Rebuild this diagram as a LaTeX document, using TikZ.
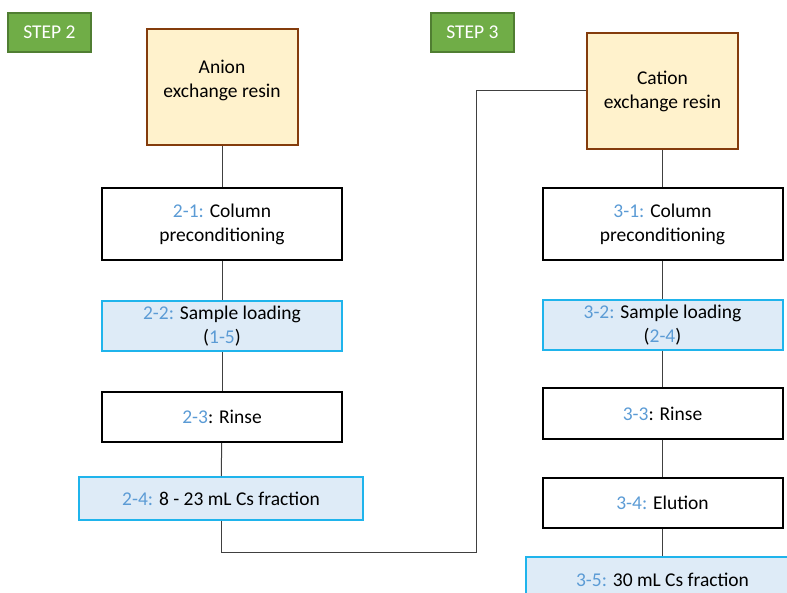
\documentclass[tikz,border=0pt]{standalone}
\usepackage{fontspec}
\setmainfont{Carlito}
\usepackage{xcolor}
\usetikzlibrary{positioning}
\definecolor{stepgreen}{HTML}{70AD47}
\definecolor{stepgreenline}{HTML}{507E32}
\definecolor{resinfill}{HTML}{FFF2CC}
\definecolor{resinline}{HTML}{843C0C}
\definecolor{numblue}{HTML}{5B9BD5}
\definecolor{fracfill}{HTML}{DEEBF7}
\definecolor{fracline}{HTML}{1FB4EC}
\newcommand\Num[1]{\textcolor{numblue}{#1}}
\tikzset{
  steplabel/.style={draw=stepgreenline,fill=stepgreen,line width=1.2pt,text=white,
    minimum width=83,minimum height=39,inner sep=0pt},
  resinbox/.style={draw=resinline,fill=resinfill,line width=2pt,
    minimum width=151,minimum height=116,inner sep=0pt,align=center},
  workbox/.style={draw=black,line width=2pt,minimum width=240,inner sep=0pt,align=center},
  fracbox/.style={workbox,draw=fracline,fill=fracfill},
  link/.style={draw=black!75,line width=1pt}
}

\begin{document}
\begin{tikzpicture}[x=1pt, y=-1pt, font=\fontsize{19.5}{24}\selectfont]
\useasboundingbox (0,0) rectangle (787,593);
% step 2
\node[steplabel] (s2) at (49.5,32.5) {STEP 2};
\node[resinbox,text depth=18pt] (anion) at (222,87.5) {Anion\\exchange resin};
\node[workbox,minimum height=72] (a21) at (222,224) {\Num{2-1:} Column\\preconditioning};
\node[fracbox,minimum height=50] (a22) at (222,326.5) {\Num{2-2:} Sample loading\\(\Num{1-5})};
\node[workbox,minimum height=50] (a23) at (222,417) {\Num{2-3}: Rinse};
\node[fracbox,minimum width=284,minimum height=43] (a24) at (221,498.5) {\Num{2-4:} 8 - 23 mL Cs fraction};
% step 3
\node[steplabel] (s3) at (472.5,32.5) {STEP 3};
\node[resinbox] (cation) at (662.5,91) {Cation\\exchange resin};
\node[workbox,minimum height=72] (c31) at (662.5,224) {\Num{3-1:} Column\\preconditioning};
\node[fracbox,minimum height=50] (c32) at (662.5,325) {\Num{3-2:} Sample loading\\(\Num{2-4})};
\node[workbox,minimum height=50] (c33) at (662.5,413.5) {\Num{3-3}: Rinse};
\node[workbox,minimum height=50] (c34) at (662.5,503) {\Num{3-4:} Elution};
\node[fracbox,minimum width=274,minimum height=46] (c35) at (662.5,580) {\Num{3-5:} 30 mL Cs fraction};

\coordinate (turn) at (476,552);

  \draw[link] (anion) -- (a21);
  \draw[link] (a21) -- (a22);
  \draw[link] (a22) -- (a23);
  \draw[link] (a23) -- (a24);
  \draw[link] (a24.south) |- (turn) |- (cation.west);
  \draw[link] (cation) -- (c31);
  \draw[link] (c31) -- (c32);
  \draw[link] (c32) -- (c33);
  \draw[link] (c33) -- (c34);
  \draw[link] (c34) -- (c35);
\end{tikzpicture}
\end{document}
